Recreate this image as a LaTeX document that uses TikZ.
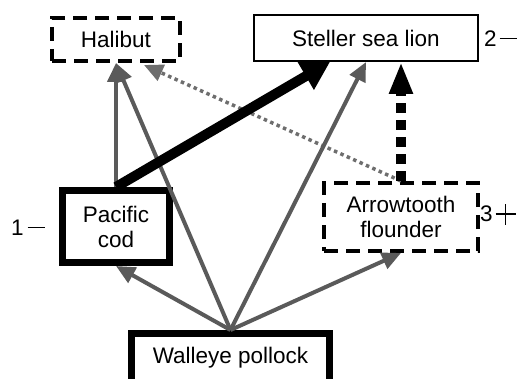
\documentclass[tikz,border=0pt]{standalone}
\usepackage{fontspec}
\setmainfont{Liberation Sans}
\usetikzlibrary{arrows.meta}
\definecolor{arrgray}{HTML}{5A5A5A}
\definecolor{dotgray}{HTML}{6E6E6E}
\newcommand{\bigminus}{\rule[7.4pt]{17pt}{1.2pt}}
\newcommand{\bigplus}{\makebox[20pt][l]{\rule[7.4pt]{20pt}{1.2pt}\hspace{-10.6pt}\rule[-2.6pt]{1.2pt}{21pt}}}
\begin{document}
\begin{tikzpicture}[x=1pt,y=-1pt,
  every node/.style={font=\fontsize{22.5}{25}\selectfont, align=center, inner sep=0pt},
  boxthick/.style={draw, line width=7pt},
  boxdash/.style={draw, line width=4pt, dash pattern=on 14pt off 8pt},
  garrow/.style={draw=arrgray, line width=4pt, -{Triangle[length=19pt,width=17pt]}, arrgray},
  dotarrow/.style={draw=dotgray, line width=3.5pt, dash pattern=on 3.5pt off 3.5pt, -{Triangle[length=19pt,width=17pt]}, dotgray},
  bigarrow/.style={draw=black, line width=10pt, -{Triangle[length=28pt,width=30pt]}},
  dasharrow/.style={draw=black, line width=10pt, dash pattern=on 10pt off 7pt, -{Triangle[length=32pt,width=22pt]}},
  lbl/.style={anchor=west}
]
\useasboundingbox (0,0) rectangle (521,379);
\begin{scope}
\clip (0,0) rectangle (521,379);
\node[boxdash, minimum width=128pt, minimum height=43pt] (hal) at (116,39.5) {Halibut};
\node[draw, line width=2pt, minimum width=224pt, minimum height=46pt] (ssl) at (366,38) {Steller sea lion};
\node[boxthick, minimum width=107pt, minimum height=72pt] (cod) at (116,226.5) {Pacific\\cod};
\node[boxdash, minimum width=154pt, minimum height=68pt] (atf) at (401,217) {Arrowtooth\\flounder};
\node[boxthick, minimum width=198pt, minimum height=60pt] (wp) at (230.5,363.5) {};
\node (wpt) at (230.5,358) {Walleye pollock};
\node[lbl] (l1) at (11,228) {1\hspace{4pt}\bigminus};
\node[lbl] (l2) at (484,39) {2\hspace{3pt}\bigminus};
\node[lbl] (l3) at (480,214) {3\hspace{3pt}\bigplus};

\coordinate (sslbig) at ([xshift=-36pt]ssl.south);
\coordinate (haldot) at ([xshift=28pt,yshift=-2pt]hal.south);

\draw[dotarrow] (atf.north) -- (haldot);
\draw[garrow] (wp.north) -- (cod.south);
\draw[garrow] (wp.north) -- (hal.south);
\draw[garrow] (wp.north) -- (ssl.south);
\draw[garrow] (wp.north) -- (atf.south);
\draw[garrow] (cod.north) -- (hal.south);
\draw[bigarrow] (cod.north) -- (sslbig);
\draw[dasharrow] (atf.north) -- (atf.north |- ssl.south);
\end{scope}
\end{tikzpicture}
\end{document}
